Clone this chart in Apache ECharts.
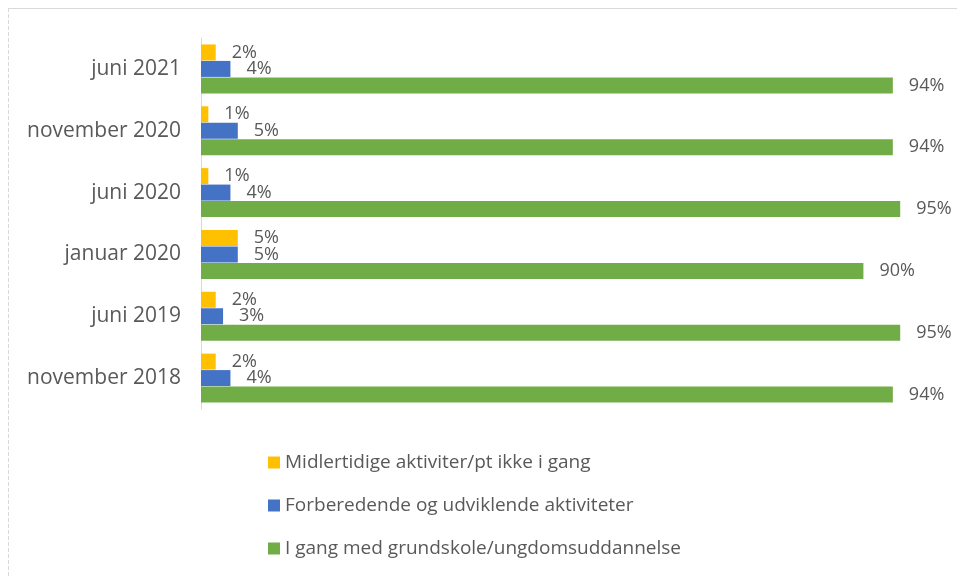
<!DOCTYPE html>
<html>
<head>
<meta charset="utf-8">
<script src="https://cdn.jsdelivr.net/npm/echarts@6/dist/echarts.min.js"></script>
<style>
html, body { margin: 0; padding: 0; background: #fff; }
#chart { width: 957px; height: 578px; }
</style>
</head>
<body>
<div id="chart"></div>
<script>
// kategorier (øverst -> nederst)
var perioder = ['juni 2021', 'november 2020', 'juni 2020', 'januar 2020', 'juni 2019', 'november 2018'];
var midlertidige = [2, 1, 1, 5, 2, 2];      // Midlertidige aktiviter/pt ikke i gang
var forberedende = [4, 5, 4, 5, 3, 4];      // Forberedende og udviklende aktiviteter
var iGang = [94, 94, 95, 90, 95, 94];       // I gang med grundskole/ungdomsuddannelse

var navne = ['Midlertidige aktiviter/pt ikke i gang', 'Forberedende og udviklende aktiviteter', 'I gang med grundskole/ungdomsuddannelse'];
var farver = ['#FFC000', '#4472C4', '#70AD47'];

var myChart = echarts.init(document.getElementById('chart'));

function serie(navn, data, farve) {
    return {
        name: navn,
        type: 'bar',
        barWidth: 16,
        barGap: '3%',
        barCategoryGap: '22%',
        itemStyle: { color: farve },
        label: {
            show: true,
            position: 'right',
            distance: 16,
            formatter: '{c}%',
            color: '#595959',
            fontSize: 18,
            fontFamily: 'Open Sans'
        },
        data: data
    };
}

var option = {
    backgroundColor: '#fff',
    animation: false,
    grid: {
        left: 201,
        right: 20,
        top: 38,
        height: 371
    },
    legend: {
        orient: 'vertical',
        left: 263,
        top: 448,
        itemWidth: 12,
        itemHeight: 12,
        itemGap: 24,
        icon: 'rect',
        textStyle: { color: '#595959', fontSize: 19, fontFamily: 'Open Sans' },
        data: navne
    },
    xAxis: {
        type: 'value',
        min: 0,
        max: 100,
        show: false
    },
    yAxis: {
        type: 'category',
        inverse: true,
        data: perioder,
        axisTick: { show: false },
        axisLine: { lineStyle: { color: '#d9d9d9', width: 1 } },
        axisLabel: { color: '#595959', fontSize: 21, fontFamily: 'Open Sans', margin: 20 }
    },
    graphic: [
        { type: 'line', shape: { x1: 8, y1: 8.5, x2: 957, y2: 8.5 }, style: { stroke: '#d9d9d9', lineWidth: 1 } },
        { type: 'line', shape: { x1: 8.5, y1: 8, x2: 8.5, y2: 578 }, style: { stroke: '#d9d9d9', lineWidth: 1, lineDash: [4, 2] } }
    ],
    series: [
        serie(navne[0], midlertidige, farver[0]),
        serie(navne[1], forberedende, farver[1]),
        serie(navne[2], iGang, farver[2])
    ]
};

myChart.setOption(option);
</script>
</body>
</html>
